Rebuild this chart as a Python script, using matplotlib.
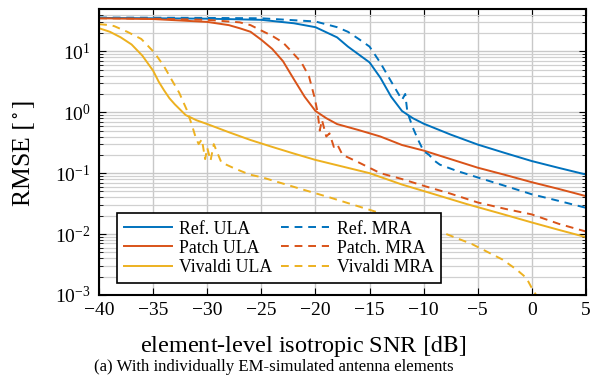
import numpy as np
import matplotlib
matplotlib.use("Agg")
import matplotlib.pyplot as plt
from matplotlib.ticker import LogLocator, MultipleLocator, NullFormatter

plt.rcParams['font.family'] = ['Liberation Serif', 'DejaVu Serif']
plt.rcParams['mathtext.fontset'] = 'stix'

# RMSE [deg] vs element-level isotropic SNR [dB]
ref_ula_snr = [-40, -35, -30, -25, -22, -20, -18, -17, -16, -15, -14, -13, -12, -11, -10,
               -7.5, -5, -2.5, 0, 2.5, 5]
ref_ula_rmse = [35.5, 35, 34.5, 33, 29, 25, 17, 12, 8.9, 6.6, 3.7, 1.8, 1.05, 0.8, 0.65,
                0.43, 0.295, 0.215, 0.158, 0.122, 0.095]

ref_mra_snr = [-40, -30, -25, -20, -18, -17, -16, -15, -14, -13, -12, -11.7, -11.5, -11, -10.5,
               -10, -9.5, -9, -8.5, -7, -5, -2.5, 0, 2.5, 5]
ref_mra_rmse = [36, 35.5, 35, 31, 25, 21, 16, 12, 6.5, 3.2, 1.6, 2.0, 1.0, 0.56, 0.35,
                0.23, 0.2, 0.16, 0.138, 0.11, 0.085, 0.062, 0.045, 0.035, 0.027]

patch_ula_snr = [-40, -35, -30, -28, -27, -26, -25, -24, -23, -22, -21, -20, -19, -18, -16,
                 -14, -12, -10, -7.5, -5, -2.5, 0, 2.5, 5]
patch_ula_rmse = [35, 34, 30.5, 27, 24, 21, 15.5, 11, 6.9, 3.5, 1.8, 1.05, 0.8, 0.64, 0.51,
                  0.40, 0.29, 0.235, 0.17, 0.123, 0.094, 0.071, 0.055, 0.042]

patch_mra_snr = [-40, -35, -30, -27, -26, -25, -24, -23, -22.4, -21.3, -20.6, -20.1, -19.8,
                 -19.6, -19.4, -19, -18.7, -18.3, -18, -17.5, -16, -14, -12, -10, -7.5, -5,
                 -2.5, 0, 2.5, 5]
patch_mra_rmse = [35, 34.5, 33, 30, 27, 22, 18, 14, 10.8, 6.6, 3.9, 1.8, 1.0,
                  0.5, 0.75, 0.4, 0.45, 0.27, 0.3, 0.2, 0.15, 0.10, 0.08, 0.062, 0.046, 0.033,
                  0.026, 0.021, 0.0147, 0.011]

viv_ula_snr = [-40, -39, -38, -37, -36, -35, -34.5, -34, -33.5, -33, -32, -31, -30, -28, -26,
               -24, -22, -20, -18, -15, -12, -9, -6, -3, 0, 2.5, 5]
viv_ula_rmse = [24, 21, 17, 13, 8.5, 4.8, 3.2, 2.3, 1.7, 1.35, 0.9, 0.74, 0.64, 0.47, 0.35,
                0.27, 0.21, 0.165, 0.135, 0.10, 0.065, 0.045, 0.031, 0.022, 0.0155, 0.0117,
                0.0089]

viv_mra_snr = [-40, -39, -38.6, -37.4, -36.1, -34.9, -34, -33.2, -32.6, -31.9, -31.4, -31.1,
               -30.8, -30.5, -30.2, -30, -29.7, -29.4, -28.7, -27.5, -26.1, -24.9, -21.2,
               -18.7, -15, -12, -8.5, -5.5, -2.7, -1.4, -0.5, 0.1, 0.4]
viv_mra_rmse = [28, 27, 26, 21, 16, 9.6, 5.7, 3.2, 2.1, 1.1, 0.6, 0.4,
                0.3, 0.36, 0.17, 0.26, 0.16, 0.3, 0.15, 0.12, 0.095, 0.085, 0.054,
                0.04, 0.025, 0.017, 0.011, 0.0068, 0.0038, 0.0026, 0.0019, 0.0012, 0.001]

blue = '#0072BD'
orange = '#D95319'
yellow = '#EDB120'

fig = plt.figure(figsize=(5.9, 3.85), dpi=100)
ax = fig.add_axes([0.168, 0.234, 0.825, 0.743])

lw = 1.4
dash = (4, 3)
l1, = ax.plot(ref_ula_snr, ref_ula_rmse, color=blue, lw=lw, label='Ref. ULA')
l2, = ax.plot(patch_ula_snr, patch_ula_rmse, color=orange, lw=lw, label='Patch ULA')
l3, = ax.plot(viv_ula_snr, viv_ula_rmse, color=yellow, lw=lw, label='Vivaldi ULA')
l4, = ax.plot(ref_mra_snr, ref_mra_rmse, color=blue, lw=lw, ls='--', dashes=dash, label='Ref. MRA')
l5, = ax.plot(patch_mra_snr, patch_mra_rmse, color=orange, lw=lw, ls='--', dashes=dash, label='Patch. MRA')
l6, = ax.plot(viv_mra_snr, viv_mra_rmse, color=yellow, lw=lw, ls='--', dashes=dash, label='Vivaldi MRA')

ax.set_yscale('log')
ax.set_xlim(-40, 5)
ax.set_ylim(1e-3, 50)
ax.xaxis.set_major_locator(MultipleLocator(5))
ax.yaxis.set_major_locator(LogLocator(base=10, numticks=10))
ax.yaxis.set_minor_locator(LogLocator(base=10, subs=np.arange(2, 10), numticks=20))
ax.yaxis.set_minor_formatter(NullFormatter())

ax.grid(True, which='major', color='#c8c8c8', lw=1.0)
ax.grid(True, which='minor', axis='y', color='#d0d0d0', lw=0.9)
ax.set_axisbelow(True)

ax.tick_params(which='both', direction='in', top=True, right=True, labelsize=14)
ax.tick_params(axis='x', pad=5)
ax.tick_params(axis='y', pad=6)
ax.tick_params(which='major', length=5, width=0.8)
ax.tick_params(which='minor', length=3, width=0.6)
for s in ax.spines.values():
    s.set_linewidth(1.5)

ax.set_xlabel(r'element-level isotropic SNR $[\mathrm{dB}]$', fontsize=17.5)
ax.xaxis.set_label_coords(0.419, -0.133)
ax.set_ylabel(r'RMSE $[{}^\circ]$', fontsize=18.5)
ax.yaxis.set_label_coords(-0.127, 0.495)

leg = ax.legend(handles=[l1, l2, l3, l4, l5, l6], ncol=2, loc='lower left',
                bbox_to_anchor=(0.037, 0.042), borderaxespad=0, fontsize=12.8,
                fancybox=False, framealpha=1, edgecolor='black',
                handlelength=2.7, handletextpad=0.4, columnspacing=0.5,
                labelspacing=0.12, borderpad=0.4)
leg.get_frame().set_linewidth(1.2)

fig.text(0.464, 0.047, '(a) With individually EM-simulated antenna elements',
         ha='center', va='center', fontsize=12.1)

fig.savefig('out.png', dpi=100)
